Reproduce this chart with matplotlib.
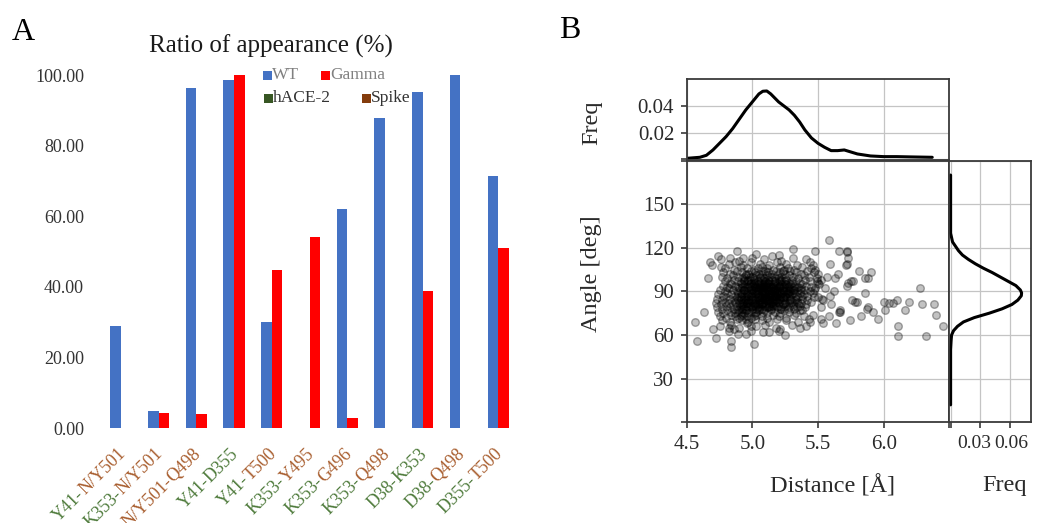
import matplotlib
matplotlib.use('Agg')
import matplotlib.pyplot as plt
import matplotlib.transforms as mtrans
from matplotlib.patches import Rectangle
import numpy as np

plt.rcParams['font.family'] = ['Liberation Serif', 'DejaVu Serif']

# ---------------- Panel A data ----------------
label_first = ['Y41-', 'K353-', 'N/Y501-', 'Y41-', 'Y41-', 'K353-', 'K353-', 'K353-', 'D38-', 'D38-', 'D355-']
label_second = ['N/Y501', 'N/Y501', 'Q498', 'D355', 'T500', 'Y495', 'G496', 'Q498', 'K353', 'Q498', 'T500']
first_is_spike = [False, False, True, False, False, False, False, False, False, False, False]
second_is_spike = [True, True, True, False, True, True, True, True, False, True, True]
wt_values = [29.0, 5.0, 96.3, 98.7, 30.2, 0.0, 62.0, 87.9, 95.3, 100.0, 71.5]
gamma_values = [0.0, 4.4, 4.0, 99.9, 44.8, 54.2, 2.8, 0.0, 38.8, 0.0, 51.1]
ytick_vals = [0, 20, 40, 60, 80, 100]

# ---------------- Panel B data ----------------
core_points = [
    (4.76,112),(4.90,111),(5.00,113),(5.09,112),(5.22,111),(5.31,113),(5.41,112),
    (4.82,109),(4.93,108),(4.99,110),(5.06,109),(5.13,108),(5.19,110),(5.26,109),(5.34,108),(5.44,110),(4.87,110),
    (4.79,106),(4.86,105),(4.91,107),(4.96,106),(5.01,105),(5.07,107),(5.11,106),(5.16,105),(5.21,107),(5.27,106),
    (5.32,105),(5.38,107),(5.45,106),(5.04,106),(5.24,105),
    (4.78,103),(4.83,102),(4.88,104),(4.92,103),(4.95,102),(4.99,104),(5.02,103),(5.05,102),(5.08,104),(5.12,103),
    (5.15,102),(5.18,104),(5.21,103),(5.25,102),(5.29,104),(5.33,103),(5.37,102),(5.42,104),(5.47,103),(4.97,102),
    (5.10,104),(5.23,104),
    (4.77,100),(4.81,99),(4.85,101),(4.89,100),(4.92,99),(4.95,101),(4.98,100),(5.01,99),(5.03,101),(5.06,100),
    (5.09,99),(5.11,101),(5.14,100),(5.17,99),(5.19,101),(5.22,100),(5.25,99),(5.28,101),(5.31,100),(5.35,99),
    (5.39,101),(5.43,100),(5.49,99),(5.00,100),(5.13,100),(5.20,99),(4.94,100),(5.07,101),
    (4.79,97),(4.83,96),(4.86,98),(4.89,97),(4.91,96),(4.94,98),(4.96,97),(4.99,96),(5.01,98),(5.04,97),(5.06,96),
    (5.08,98),(5.10,97),(5.12,96),(5.15,98),(5.17,97),(5.19,96),(5.22,98),(5.24,97),(5.27,96),(5.30,98),(5.33,97),
    (5.36,96),(5.40,98),(5.44,97),(5.50,96),(5.02,96),(5.13,97),(5.20,98),(4.97,98),(5.09,96),(5.26,98),
    (4.78,94),(4.81,93),(4.84,95),(4.87,94),(4.89,93),(4.92,95),(4.94,94),(4.96,93),(4.98,95),(5.00,94),(5.02,93),
    (5.04,95),(5.06,94),(5.08,93),(5.10,95),(5.12,94),(5.14,93),(5.16,95),(5.18,94),(5.20,93),(5.22,95),(5.24,94),
    (5.27,93),(5.29,95),(5.32,94),(5.35,93),(5.38,95),(5.41,94),(5.45,93),(5.51,95),(5.01,95),(5.09,94),(5.15,94),
    (5.21,94),(4.95,95),(5.05,93),(5.13,95),(5.25,95),
    (4.75,91),(4.79,90),(4.82,92),(4.85,91),(4.88,90),(4.90,92),(4.93,91),(4.95,90),(4.97,92),(4.99,91),(5.01,90),
    (5.03,92),(5.05,91),(5.07,90),(5.09,92),(5.11,91),(5.13,90),(5.15,92),(5.17,91),(5.19,90),(5.21,92),(5.23,91),
    (5.26,90),(5.28,92),(5.31,91),(5.34,90),(5.37,92),(5.40,91),(5.44,90),(5.48,92),(5.00,91),(5.06,92),(5.12,91),
    (5.18,92),(5.24,90),(4.94,91),(5.08,91),(5.16,90),(5.29,90),
    (4.74,88),(4.78,87),(4.81,89),(4.84,88),(4.87,87),(4.89,89),(4.92,88),(4.94,87),(4.96,89),(4.98,88),(5.00,87),
    (5.02,89),(5.04,88),(5.06,87),(5.08,89),(5.10,88),(5.12,87),(5.14,89),(5.16,88),(5.18,87),(5.20,89),(5.22,88),
    (5.25,87),(5.27,89),(5.30,88),(5.33,87),(5.36,89),(5.39,88),(5.42,87),(5.46,89),(5.03,88),(5.09,87),(5.15,87),
    (5.21,87),(4.97,87),(5.07,88),(5.13,88),(5.19,88),(4.91,87),(5.28,88),
    (4.73,85),(4.77,84),(4.80,86),(4.83,85),(4.86,84),(4.88,86),(4.91,85),(4.93,84),(4.95,86),(4.97,85),(4.99,84),
    (5.01,86),(5.03,85),(5.05,84),(5.07,86),(5.09,85),(5.11,84),(5.13,86),(5.15,85),(5.17,84),(5.19,86),(5.21,85),
    (5.24,84),(5.26,86),(5.29,85),(5.32,84),(5.35,86),(5.38,85),(5.42,84),(5.47,86),(5.00,85),(5.06,85),(5.12,85),
    (5.18,85),(4.94,85),(5.10,86),(5.22,86),
    (4.72,82),(4.76,81),(4.79,83),(4.82,82),(4.85,81),(4.87,83),(4.90,82),(4.92,81),(4.94,83),(4.96,82),(4.98,81),
    (5.00,83),(5.02,82),(5.04,81),(5.06,83),(5.08,82),(5.10,81),(5.12,83),(5.14,82),(5.16,81),(5.18,83),(5.20,82),
    (5.23,81),(5.25,83),(5.28,82),(5.31,81),(5.34,83),(5.37,82),(5.41,81),(5.45,83),(5.01,81),(5.07,81),(5.13,81),
    (4.93,82),(5.05,82),(5.17,82),
    (4.73,79),(4.77,78),(4.80,80),(4.83,79),(4.86,78),(4.88,80),(4.91,79),(4.93,78),(4.95,80),(4.97,79),(5.00,78),
    (5.02,80),(5.04,79),(5.07,78),(5.09,80),(5.11,79),(5.14,78),(5.16,80),(5.19,79),(5.22,78),(5.25,80),(5.28,79),
    (5.32,78),(5.36,80),(5.40,79),(4.90,78),(4.98,80),(5.06,79),(5.13,80),
    (4.74,76),(4.78,75),(4.81,77),(4.84,76),(4.87,75),(4.89,77),(4.92,76),(4.94,75),(4.96,77),(4.99,76),(5.02,75),
    (5.05,77),(5.08,76),(5.11,75),(5.14,77),(5.17,76),(5.21,75),(5.24,77),(5.28,76),(5.33,75),(5.38,77),(4.90,76),
    (4.97,75),(5.03,76),
    (4.75,73),(4.80,72),(4.84,74),(4.87,73),(4.90,72),(4.93,74),(4.96,73),(4.99,72),(5.03,74),(5.07,73),(5.11,72),
    (5.16,74),(5.20,73),(5.26,72),(5.32,74),(5.39,73),(4.91,73),(5.01,73),
    (4.77,70),(4.83,69),(4.88,71),(4.92,70),(4.97,69),(5.02,71),(5.07,70),(5.13,69),(5.19,71),(5.26,70),(5.35,69),
    (5.43,71),(4.95,71),
    (4.75,66),(4.84,67),(4.90,65),(4.96,68),(5.03,66),(5.10,67),(5.18,65),(5.30,67),(5.41,66),(4.99,66),
    (4.82,63),(4.89,61),(4.99,63),(5.08,62),(5.21,64),(4.86,64),
]
dense_points = [
    (4.89,84),(4.91,89),(4.92,93),(4.93,80),(4.94,97),(4.95,77),(4.96,88),(4.97,83),(4.98,94),(4.99,79),
    (5.00,89),(5.01,96),(5.02,84),(5.03,78),(5.04,91),(5.05,86),(5.06,99),(5.07,82),(5.08,95),(5.09,77),
    (5.10,89),(5.11,85),(5.12,98),(5.13,79),(5.14,92),(5.15,86),(5.16,83),(5.17,96),(5.18,80),(5.19,90),
    (5.20,85),(5.21,97),(5.22,79),(5.23,92),(5.24,86),(5.25,82),(5.26,95),(5.27,78),(5.28,90),(5.29,84),
    (5.30,96),(5.31,80),(5.32,89),(5.33,85),(5.34,93),(5.35,82),(5.36,77),(5.37,91),(5.38,87),(4.90,86),
    (4.92,78),(4.94,91),(4.96,82),(4.98,98),(5.00,80),(5.02,94),(5.04,87),(5.06,81),(5.08,92),(5.10,84),
    (5.12,79),(5.14,88),(5.16,93),(5.18,84),(5.20,94),(5.22,89),(5.24,81),(5.26,88),(5.28,94),(5.30,83),
    (5.32,91),(5.34,79),(4.91,81),(4.95,84),(4.99,87),(5.03,90),(5.07,93),(5.11,96),(5.15,80),(5.19,83),
    (5.23,86),(5.27,89),(5.31,92),(5.05,78),(5.09,85),(5.13,88),(5.17,91),(5.21,78),(5.25,93),(5.29,87),
    (5.01,92),(5.05,96),(5.09,90),(5.13,84),(5.17,87),(5.21,90),(5.11,93),(5.15,90),(5.07,86),(5.03,81),
]
outer_points = [
    (4.56,69),(4.58,56),(4.63,76),(4.66,99),(4.68,110),(4.69,108),(4.70,64),(4.72,58),(4.74,114),(4.76,107),
    (4.83,113),(4.84,56),(4.84,52),(4.82,65),(4.88,118),(4.93,113),(4.95,61),(5.01,54),(5.03,116),(5.13,62),
    (5.15,114),(5.20,63),(5.20,115),(5.25,60),(5.31,119),(5.36,65),(5.46,108),(5.48,118),(5.48,105),(5.49,97),
    (5.50,102),(5.52,98),(5.53,85),(5.54,84),(5.54,68),(5.57,100),(5.58,125),(5.58,73),(5.59,109),(5.59,87),
    (5.60,81),(5.62,90),(5.63,99),(5.64,68),(5.65,102),(5.66,118),(5.66,76),(5.67,77),(5.67,76),(5.71,108),
    (5.72,118),(5.72,117),(5.72,109),(5.72,94),(5.73,96),(5.73,113),(5.74,70),(5.75,97),(5.76,84),(5.77,97),
    (5.78,83),(5.80,83),(5.81,104),(5.83,73),(5.86,99),(5.86,89),(5.87,78),(5.88,99),(5.88,79),(5.90,103),
    (5.92,76),(5.96,71),(6.00,83),(6.01,77),(6.04,82),(6.07,82),(6.10,84),(6.11,66),(6.11,59),(6.16,77),
    (6.19,83),(6.28,92),(6.29,81),(6.32,59),(6.38,81),(6.40,74),(6.45,66),
    (5.47,91),(5.50,86),(5.52,79),(5.55,92),(5.46,74),(5.52,71),(5.44,69),
]
dist_kde_x = [4.51,4.60,4.65,4.70,4.75,4.80,4.85,4.90,4.95,5.00,5.05,5.08,5.11,5.14,5.17,5.20,5.24,5.28,
              5.32,5.36,5.40,5.45,5.50,5.55,5.60,5.65,5.70,5.75,5.80,5.90,6.00,6.10,6.20,6.37]
dist_kde_f = [0.0008,0.0015,0.003,0.007,0.012,0.017,0.023,0.030,0.037,0.043,0.049,0.051,0.0512,0.049,0.046,
              0.043,0.040,0.037,0.033,0.028,0.022,0.016,0.012,0.009,0.0065,0.0065,0.007,0.0055,0.004,0.0025,
              0.002,0.002,0.0018,0.0015]
ang_kde_y = [12,50,56,60,63,66,69,72,75,78,81,84,87,89,91,94,97,100,103,106,109,112,115,118,121,124,127,130,170]
ang_kde_f = [0.0,0.0,0.0005,0.001,0.003,0.007,0.013,0.024,0.039,0.052,0.062,0.068,0.0715,0.0718,0.0705,0.066,
             0.058,0.050,0.042,0.033,0.025,0.018,0.012,0.008,0.005,0.002,0.001,0.0,0.0]

W, H = 1040, 523
fig = plt.figure(figsize=(W / 100, H / 100), dpi=100)

def fx(px):
    return px / W

def fy(py):
    return 1 - py / H

# ================= Panel A =================
axA = fig.add_axes([fx(102), fy(428.3), fx(517 - 102), (428.3 - 75) / H])
n = len(wt_values)
x = np.arange(n)
bw = 0.28
axA.bar(x - bw / 2, wt_values, bw, color='#4472C4', zorder=2)
axA.bar(x + bw / 2, gamma_values, bw, color='#FF0000', zorder=2)
axA.set_xlim(-0.5, n - 0.5)
axA.set_ylim(0, 100)
for s in axA.spines.values():
    s.set_visible(False)
axA.set_yticks(ytick_vals)
axA.set_yticklabels(['%.2f' % v for v in ytick_vals], fontsize=13, color='#333333')
axA.tick_params(axis='y', length=0, pad=13)
axA.set_xticks([])

fig.text(fx(271), fy(46), 'Ratio of appearance (%)', fontsize=18, ha='center', va='center', color='#1a1a1a')
fig.text(fx(23), fy(33), 'A', fontsize=23, ha='center', va='center')
fig.text(fx(570), fy(31), 'B', fontsize=23, ha='center', va='center')

# legend (manual, Excel-like flow)
leg_items = [('WT', '#4472C4', '#808080', 263, 272, 75), ('Gamma', '#FF0000', '#808080', 321, 330, 75),
             ('hACE-2', '#375623', '#333333', 264, 273, 98), ('Spike', '#843C0C', '#333333', 362, 371, 98)]
for name, c, tc, sx, tx, py in leg_items:
    fig.add_artist(Rectangle((fx(sx), fy(py + 4.5)), fx(8.5), 8.5 / H, transform=fig.transFigure,
                             facecolor=c, edgecolor='none'))
    fig.text(fx(tx), fy(py), name, color=tc, fontsize=12.5, ha='left', va='center')

# two-coloured rotated category labels
green = '#4f7b3c'
brown = '#a95f30'
fig.canvas.draw()
renderer = fig.canvas.get_renderer()
base = mtrans.blended_transform_factory(axA.transData, axA.transAxes)
c45 = np.cos(np.radians(45))
lab_fs = 13
dx, dy = 2, -23
for i in range(n):
    col1 = brown if first_is_spike[i] else green
    col2 = brown if second_is_spike[i] else green
    tr2 = mtrans.offset_copy(base, fig=fig, x=dx, y=dy, units='dots')
    axA.text(i, 0, label_second[i], transform=tr2, rotation=45, rotation_mode='anchor',
             ha='right', va='center', color=col2, fontsize=lab_fs, clip_on=False)
    tmp = fig.text(0, 0, label_second[i], fontsize=lab_fs)
    w = tmp.get_window_extent(renderer).width
    tmp.remove()
    tr1 = mtrans.offset_copy(base, fig=fig, x=dx - w * c45, y=dy - w * c45, units='dots')
    axA.text(i, 0, label_first[i], transform=tr1, rotation=45, rotation_mode='anchor',
             ha='right', va='center', color=col1, fontsize=lab_fs, clip_on=False)

# ================= Panel B =================
left, right, top_m, top_t, bottom = 686.7, 949.3, 160.5, 78.7, 422.3
right_r = 1030.7
axM = fig.add_axes([fx(left), fy(bottom), fx(right - left), (bottom - top_m) / H])
axT = fig.add_axes([fx(left), fy(top_m), fx(right - left), (top_m - top_t) / H])
axR = fig.add_axes([fx(right), fy(bottom), fx(right_r - right), (bottom - top_m) / H])

spine_c = '#3a3a3a'
grid_c = '#c4c4c4'
tick_fs = 15
for ax in (axM, axT, axR):
    for s in ax.spines.values():
        s.set_color(spine_c)
        s.set_linewidth(1.3)
    ax.grid(True, color=grid_c, linewidth=0.9, zorder=0)
    ax.set_axisbelow(True)
    ax.tick_params(direction='out', length=4, width=1.2, color=spine_c, labelsize=tick_fs,
                   labelcolor='#2a2a2a', pad=5)

all_points = core_points + dense_points + outer_points
cx = [p[0] for p in all_points]
cy = [p[1] for p in all_points]
axM.scatter(cx, cy, s=30, facecolor=(0, 0, 0, 0.24), edgecolor=(0, 0, 0, 0.32), linewidth=1.0, zorder=3)
axM.set_xlim(4.5, 6.5)
axM.set_ylim(0, 180)
axM.set_xticks([4.5, 5.0, 5.5, 6.0, 6.5])
axM.set_xticklabels(['4.5', '5.0', '5.5', '6.0', ''])
axM.set_yticks([0, 30, 60, 90, 120, 150, 180])
axM.set_yticklabels(['', '30', '60', '90', '120', '150', ''])

axT.plot(dist_kde_x, dist_kde_f, color='black', linewidth=2.2, solid_capstyle='round')
axT.set_xlim(4.5, 6.5)
axT.set_ylim(-0.0009, 0.0604)
axT.set_xticks([4.5, 5.0, 5.5, 6.0, 6.5])
axT.tick_params(axis='x', length=0, labelbottom=False)
axT.set_yticks([0, 0.02, 0.04])
axT.set_yticklabels(['', '0.02', '0.04'])

axR.plot(ang_kde_f, ang_kde_y, color='black', linewidth=2.2, solid_capstyle='round')
axR.set_xlim(-0.0013, 0.081)
axR.set_ylim(0, 180)
axR.set_yticks([0, 30, 60, 90, 120, 150, 180])
axR.tick_params(axis='y', length=0, labelleft=False)
axR.set_xticks([0, 0.03, 0.06])
axR.set_xticklabels(['', '0.03', '0.06'])
axR.tick_params(axis='x', labelsize=14)
xl = axR.get_xticklabels()
xl[1].set_transform(xl[1].get_transform() + mtrans.ScaledTranslation(-6 / 100, 0, fig.dpi_scale_trans))
xl[2].set_transform(xl[2].get_transform() + mtrans.ScaledTranslation(1 / 100, 0, fig.dpi_scale_trans))

lab_c = '#2a2a2a'
fig.text(fx(592), fy(274), 'Angle [deg]', rotation=90, fontsize=17.5, ha='center', va='center', color=lab_c)
fig.text(fx(592), fy(123), 'Freq', rotation=90, fontsize=17.5, ha='center', va='center', color=lab_c)
fig.text(fx(832), fy(486), 'Distance [\u00c5]', fontsize=17.5, ha='center', va='center', color=lab_c)
fig.text(fx(1005), fy(486), 'Freq', fontsize=17.5, ha='center', va='center', color=lab_c)

fig.savefig('out.png', dpi=100, facecolor='white')
